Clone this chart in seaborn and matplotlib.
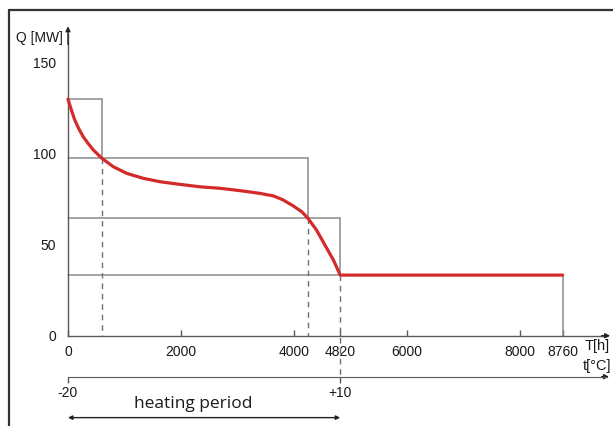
import matplotlib
matplotlib.use("Agg")
import matplotlib.pyplot as plt
from matplotlib.lines import Line2D
import seaborn as sns

# load duration curve (T in hours, Q in MW)
curve_T = [0, 60, 120, 190, 270, 360, 450, 600, 800, 1040, 1330, 1630, 1920,
           2340, 2690, 3050, 3400, 3640, 3810, 3990, 4140, 4250, 4400, 4550, 4700,
           4820, 8760]
curve_Q = [130, 124, 118.5, 113.8, 109.3, 105.5, 102, 97.5, 92.9, 89.2, 86.5, 84.6, 83.4,
           81.8, 81.0, 79.7, 78.2, 76.8, 74.6, 71.3, 68.1, 64.5, 58.1, 49.8, 41.6,
           33.3, 33.3]

# step boxes (hours where each level ends, level in MW)
step_T = [600, 4250, 4820, 8760]
step_Q = [130, 97.5, 64.5, 33.3]

T_ticks = [0, 2000, 4000, 4820, 6000, 8000, 8760]
Q_ticks = [0, 50, 100, 150]

# outside temperature axis
temp_T = [0, 4820]
temp_labels = ["-20", "+10"]

sns.set_style("white")
plt.rcParams['font.family'] = ['Liberation Sans', 'DejaVu Sans']

GRAY = "#8a8a8a"
AXC = "#5a5a5a"
RED = "#d42a2a"
TXT = "#1a1a1a"

fig = plt.figure(figsize=(6.13, 4.26), dpi=100)
ax = fig.add_axes([0, 0, 1, 1])
ax.set_xlim(-1204, 9651)
ax.set_ylim(-49.6, 184.45)
ax.patch.set_alpha(0)

# main axes with arrows
for s in ["top", "right"]:
    ax.spines[s].set_visible(False)
ax.spines["left"].set_position(("data", 0))
ax.spines["bottom"].set_position(("data", 0))
ax.spines["left"].set_bounds(0, 166)
ax.spines["bottom"].set_bounds(0, 9550)
for s in ["left", "bottom"]:
    ax.spines[s].set_color(AXC)
    ax.spines[s].set_linewidth(1.0)
ax.annotate("", xy=(0, 170), xytext=(0, 160),
            arrowprops=dict(arrowstyle="-|>", color="#222", lw=1.0, mutation_scale=7,
                            shrinkA=0, shrinkB=0))
ax.annotate("", xy=(9600, 0), xytext=(9450, 0),
            arrowprops=dict(arrowstyle="-|>", color="#222", lw=1.0, mutation_scale=7,
                            shrinkA=0, shrinkB=0))

ax.set_xticks(T_ticks)
ax.set_xticklabels([str(t) for t in T_ticks])
ax.set_yticks(Q_ticks)
ax.set_yticklabels([str(q) for q in Q_ticks])
ax.tick_params(axis="x", direction="in", length=4, width=1, color=AXC, pad=7,
               labelsize=10, labelcolor=TXT)
ax.tick_params(axis="y", direction="out", length=3.5, width=1, color=AXC, pad=5,
               labelsize=10, labelcolor=TXT)

# step boxes
for i, (t, q) in enumerate(zip(step_T, step_Q)):
    q_next = step_Q[i + 1] if i + 1 < len(step_Q) else 0
    ax.plot([0, t], [q, q], color=GRAY, lw=1.1, zorder=2)
    ax.plot([t, t], [q, q_next], color=GRAY, lw=1.1, zorder=2)

# dashed drop lines
temp_y = -22.5
for i, t in enumerate(step_T[:-1]):
    bottom = temp_y if t == temp_T[-1] else 0
    ax.plot([t, t], [step_Q[i + 1], bottom], color="#707070", lw=1.0,
            ls=(0, (4, 3.5)), zorder=2)

# red load curve
sns.lineplot(x=curve_T, y=curve_Q, ax=ax, color=RED, lw=2.3, estimator=None,
             zorder=4)

# temperature axis
ax2 = ax.twiny()
ax2.set_xlim(ax.get_xlim())
for s in ["top", "right", "left"]:
    ax2.spines[s].set_visible(False)
ax2.xaxis.set_ticks_position("bottom")
ax2.xaxis.set_label_position("bottom")
ax2.spines["bottom"].set_position(("data", temp_y))
ax2.spines["bottom"].set_bounds(0, 9550)
ax2.spines["bottom"].set_color(AXC)
ax2.set_xticks(temp_T)
ax2.set_xticklabels(temp_labels)
ax2.tick_params(axis="x", direction="out", length=4, width=1, color=AXC, pad=3,
                labelsize=10, labelcolor=TXT)
ax.annotate("", xy=(9580, temp_y), xytext=(9450, temp_y),
            arrowprops=dict(arrowstyle="-|>", color="#222", lw=1.0, mutation_scale=7,
                            shrinkA=0, shrinkB=0))

# axis labels
ax.text(-513, 163.6, "Q [MW]", ha="center", va="center", fontsize=10, color=TXT)
ax.text(9150, -5.7, "T[h]", ha="left", va="center", fontsize=10.5, color=TXT)
ax.text(9110, -16.6, "t[°C]", ha="left", va="center", fontsize=10.5, color=TXT)

# heating period
ax.annotate("", xy=(0, -45), xytext=(temp_T[-1], -45),
            arrowprops=dict(arrowstyle="<|-|>", color="#222", lw=1.0, mutation_scale=6,
                            shrinkA=0, shrinkB=0))
ax.text(2213, -37.5, "heating period", ha="center", va="center", fontsize=12.5,
        color=TXT, family=["Open Sans", "DejaVu Sans"])

# picture frame
fig.add_artist(Line2D([9 / 613, 9 / 613], [0, 1 - 10 / 426], transform=fig.transFigure,
                      color="#333", lw=1.6))
fig.add_artist(Line2D([9 / 613, 1], [1 - 10 / 426, 1 - 10 / 426], transform=fig.transFigure,
                      color="#333", lw=1.6))

fig.savefig("out.png", dpi=100)
